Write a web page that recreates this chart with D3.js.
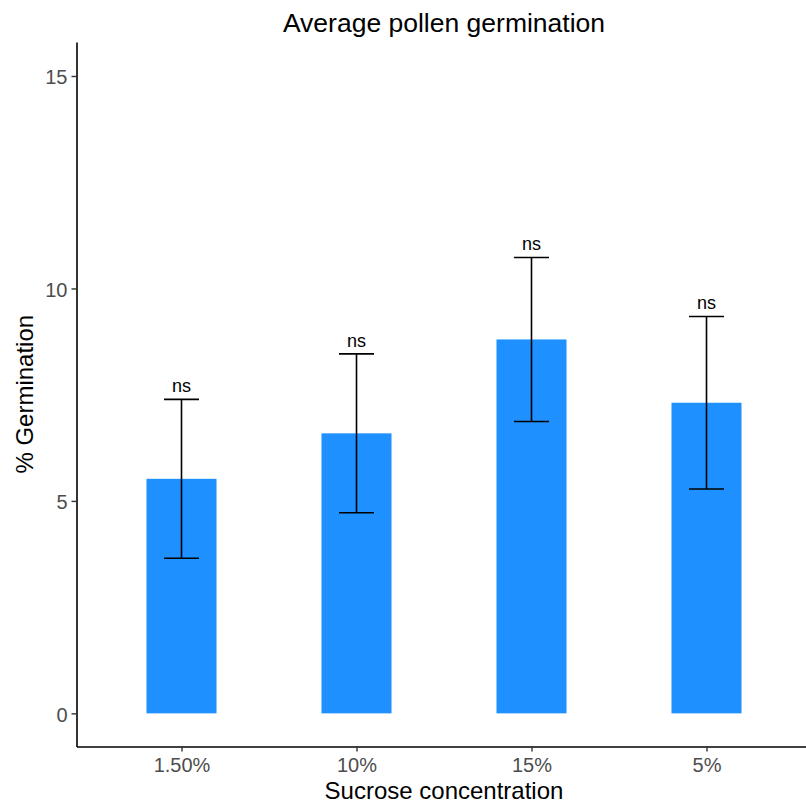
<!DOCTYPE html>
<html>
<head>
<meta charset="utf-8">
<script src="https://cdn.jsdelivr.net/npm/d3@7"></script>
<style>
  body { margin: 0; background: #fff; }
  svg { font-family: "Liberation Sans", Arial, sans-serif; display: block; }
</style>
</head>
<body>
<svg id="chart"></svg>
<script>
const categories = ["1.50%", "10%", "15%", "5%"];
const means = [5.52, 6.59, 8.8, 7.31];
const errors = [1.87, 1.87, 1.93, 2.03];
const labels = ["ns", "ns", "ns", "ns"];
const yTicks = [0, 5, 10, 15];

const width = 806;
const height = 805;

const svg = d3.select("#chart").attr("width", width).attr("height", height);

// panel edges
const panelLeft = 76.5, panelRight = 811.5, panelTop = 42, panelBottom = 746.5;

const xScale = d3.scalePoint().domain(categories).range([panelLeft, panelRight]).padding(0.6);
const step = xScale.step();
const yScale = d3.scaleLinear().domain([-0.78, 15.8]).range([panelBottom, panelTop]);

const data = categories.map((c, i) => ({ cat: c, mean: means[i], se: errors[i], label: labels[i] }));

// bars
svg.append("g")
  .selectAll("rect")
  .data(data)
  .enter()
  .append("rect")
  .attr("x", (d) => xScale(d.cat) - step * 0.2)
  .attr("y", (d) => yScale(d.mean))
  .attr("width", step * 0.4)
  .attr("height", (d) => yScale(0) - yScale(d.mean))
  .attr("fill", "#1E90FF");

// error bars
const errGroup = svg.append("g").attr("stroke", "#000").attr("stroke-width", 1.6).attr("fill", "none");
data.forEach((d) => {
  const cx = xScale(d.cat);
  const hw = step * 0.1;
  const y1 = yScale(d.mean + d.se);
  const y0 = yScale(d.mean - d.se);
  errGroup.append("line").attr("x1", cx).attr("x2", cx).attr("y1", y1).attr("y2", y0);
  errGroup.append("line").attr("x1", cx - hw).attr("x2", cx + hw).attr("y1", y1).attr("y2", y1);
  errGroup.append("line").attr("x1", cx - hw).attr("x2", cx + hw).attr("y1", y0).attr("y2", y0);
});

// significance labels
svg.append("g")
  .selectAll("text")
  .data(data)
  .enter()
  .append("text")
  .attr("x", (d) => xScale(d.cat))
  .attr("y", (d) => yScale(d.mean + d.se) - 7)
  .attr("text-anchor", "middle")
  .attr("font-size", 18)
  .attr("fill", "#000")
  .text((d) => d.label);

// x - axis
const xAxis = svg.append("g")
  .attr("transform", `translate(0,${panelBottom})`)
  .call(d3.axisBottom(xScale).tickSize(5).tickSizeOuter(0).tickPadding(6));
// y - axis
const yAxis = svg.append("g")
  .attr("transform", `translate(${panelLeft},0)`)
  .call(d3.axisLeft(yScale).tickValues(yTicks).tickSize(5).tickSizeOuter(0).tickPadding(4));

[xAxis, yAxis].forEach((ax) => {
  ax.select(".domain").attr("stroke", "#000").attr("stroke-width", 1.6);
  ax.selectAll(".tick line").attr("stroke", "#333").attr("stroke-width", 1.4);
  ax.selectAll(".tick text")
    .attr("fill", "#4D4D4D")
    .attr("font-size", 20)
    .attr("font-family", "'Liberation Sans', Arial, sans-serif");
});
yAxis.selectAll(".tick text").attr("dy", "0.4em");

// titles
const panelMid = (panelLeft + panelRight) / 2;
svg.append("text")
  .attr("x", panelMid)
  .attr("y", 32)
  .attr("text-anchor", "middle")
  .attr("font-size", 26.5)
  .attr("fill", "#000")
  .text("Average pollen germination");

svg.append("text")
  .attr("x", panelMid)
  .attr("y", 799)
  .attr("text-anchor", "middle")
  .attr("font-size", 24)
  .attr("fill", "#000")
  .text("Sucrose concentration");

svg.append("text")
  .attr("transform", `translate(33,${(panelTop + panelBottom) / 2}) rotate(-90)`)
  .attr("text-anchor", "middle")
  .attr("font-size", 24)
  .attr("fill", "#000")
  .text("% Germination");
</script>
</body>
</html>
